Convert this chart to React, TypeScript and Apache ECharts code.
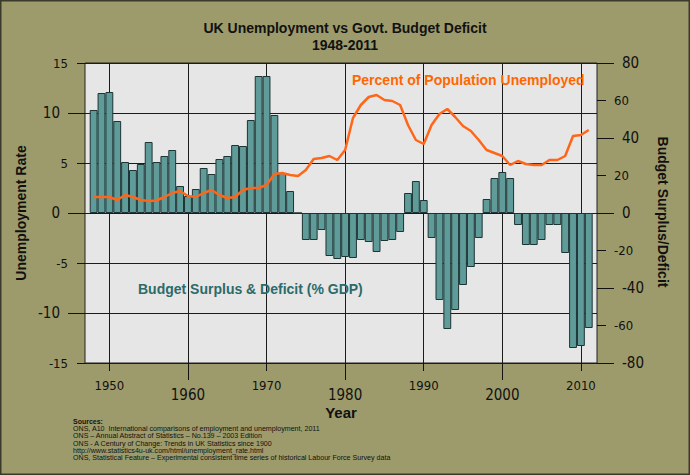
import React, { useEffect, useRef } from "react";
import * as echarts from "echarts";

const years = [
  1948, 1949, 1950, 1951, 1952, 1953, 1954, 1955, 1956, 1957,
  1958, 1959, 1960, 1961, 1962, 1963, 1964, 1965, 1966, 1967,
  1968, 1969, 1970, 1971, 1972, 1973, 1974, 1975, 1976, 1977,
  1978, 1979, 1980, 1981, 1982, 1983, 1984, 1985, 1986, 1987,
  1988, 1989, 1990, 1991, 1992, 1993, 1994, 1995, 1996, 1997,
  1998, 1999, 2000, 2001, 2002, 2003, 2004, 2005, 2006, 2007,
  2008, 2009, 2010, 2011,
];

// Budget surplus / deficit bars (read on the left scale)
const budgetBalance = [
  10.3, 12.0, 12.1, 9.2, 5.1, 4.3, 4.9, 7.1, 5.1, 5.7,
  6.3, 2.7, 1.7, 2.4, 4.5, 3.9, 5.4, 5.7, 6.8, 6.7,
  9.3, 13.7, 13.7, 9.8, 4.0, 2.2, 0.0, -2.7, -2.7, -1.7,
  -4.3, -4.6, -4.4, -4.5, -2.7, -2.9, -3.9, -2.8, -2.7, -1.9,
  2.0, 3.2, 1.3, -2.5, -8.7, -11.6, -9.7, -7.2, -5.4, -2.5,
  1.4, 3.5, 4.1, 3.5, -1.2, -3.2, -3.2, -2.7, -1.2, -1.2,
  -4.0, -13.5, -13.3, -11.5,
];

// Percent of population unemployed
const unemployment = [
  1.6, 1.6, 1.6, 1.3, 1.8, 1.6, 1.3, 1.2, 1.25, 1.6,
  2.0, 2.2, 1.7, 1.6, 2.0, 2.3, 1.8, 1.5, 1.6, 2.3,
  2.5, 2.5, 2.8, 3.9, 4.0, 3.8, 3.7, 4.3, 5.4, 5.5,
  5.7, 5.3, 6.3, 9.5, 10.8, 11.6, 11.8, 11.3, 11.2, 10.8,
  8.8, 7.3, 6.9, 8.8, 9.9, 10.4, 9.6, 8.7, 8.2, 7.3,
  6.3, 6.0, 5.7, 4.8, 5.2, 4.9, 4.8, 4.8, 5.3, 5.3,
  5.7, 7.7, 7.8, 8.3,
];

const decadeTicks = [1950, 1960, 1970, 1980, 1990, 2000, 2010];
const xMinorTicks = [1950, 1970, 1990, 2010];
const xMajorTicks = [1960, 1980, 2000];
const leftMinorTicks = [-15, -5, 5, 15];
const leftMajorTicks = [-10, 0, 10];
const rightMajorTicks = [-80, -40, 0, 40, 80];
const rightMinorTicks = [-60, -20, 20, 60];

const titleLines = ["UK Unemployment vs Govt. Budget Deficit", "1948-2011"];
const sourceLines = [
  "ONS, A10  International comparisons of employment and unemployment, 2011",
  "ONS \u2013 Annual Abstract of Statistics \u2013 No.139 \u2013 2003 Edition",
  "ONS - A Century of Change: Trends in UK Statistics since 1900",
  "http://www.statistics4u-uk.com/html/unemployment_rate.html",
  "ONS, Statistical Feature \u2013 Experimental consistent time series of historical Labour Force Survey data",
];

const FONT = '"Liberation Sans", Arial, Helvetica, sans-serif';
const NARROW = '"Liberation Sans Narrow", "Arial Narrow", "DejaVu Sans Condensed", sans-serif';
const INK = "#111111";
const GRIDLINE = "#1c1c1c";

const plain = (v: number) => String(v);

export default function App() {
  const ref = useRef<HTMLDivElement>(null);

  useEffect(() => {
    if (!ref.current) return;
    const chart = echarts.init(ref.current, null, { renderer: "svg" });

    const xBase: any = {
      type: "value",
      min: 1946.9,
      max: 2012.05,
      position: "bottom",
      axisLine: { show: false, onZero: false },
      splitLine: { show: false },
      axisTick: { show: false },
      axisLabel: { show: false },
    };
    const yLeftBase: any = {
      type: "value",
      min: -15,
      max: 15,
      interval: 5,
      position: "left",
      axisLine: { show: false, onZero: false },
      splitLine: { show: false },
      axisTick: { show: false },
      axisLabel: { show: false },
    };
    const yRightBase: any = {
      type: "value",
      min: -80,
      max: 80,
      interval: 40,
      position: "right",
      axisLine: { show: false, onZero: false },
      splitLine: { show: false },
      axisTick: { show: false },
      axisLabel: { show: false },
    };
    const tickStyle = { color: INK, width: 1 };
    const minorLabel = { show: true, fontSize: 13, fontFamily: NARROW, color: INK, formatter: plain };
    const majorLabel = { show: true, fontSize: 15, fontFamily: NARROW, color: INK, formatter: plain };

    const sourceTexts = sourceLines.map((line, i) => ({
      type: "text",
      x: 73,
      y: 429.3 + i * 7.1,
      style: {
        text: line,
        fill: INK,
        font: `7.1px ${FONT}`,
        align: "left",
        verticalAlign: "middle",
        textAlign: "left",
        textVerticalAlign: "middle",
      },
    }));

    const option: any = {
      animation: false,
      backgroundColor: "#9d9b6b",
      grid: {
        left: 85,
        top: 63,
        width: 512,
        height: 300,
        show: true,
        backgroundColor: "#e6e6e6",
        borderColor: "#222222",
        borderWidth: 1,
      },
      xAxis: [
        {
          ...xBase,
          axisTick: { show: false, customValues: decadeTicks },
          splitLine: { show: true, lineStyle: { color: GRIDLINE, width: 1 } },
        },
        {
          ...xBase,
          axisTick: { show: true, customValues: xMinorTicks, length: 8, lineStyle: tickStyle },
          axisLabel: { ...minorLabel, customValues: xMinorTicks, margin: 16 },
        },
        {
          ...xBase,
          axisTick: { show: true, customValues: xMajorTicks, length: 17, lineStyle: tickStyle },
          axisLabel: { ...majorLabel, customValues: xMajorTicks, margin: 24 },
        },
      ],
      yAxis: [
        {
          ...yLeftBase,
          splitLine: { show: true, lineStyle: { color: GRIDLINE, width: 1 } },
        },
        {
          ...yLeftBase,
          axisTick: { show: true, customValues: leftMinorTicks, length: 8, lineStyle: tickStyle },
          axisLabel: { ...minorLabel, customValues: leftMinorTicks, margin: 17 },
        },
        {
          ...yLeftBase,
          axisTick: { show: true, customValues: leftMajorTicks, length: 17, lineStyle: tickStyle },
          axisLabel: { ...majorLabel, customValues: leftMajorTicks, margin: 25 },
        },
        {
          ...yRightBase,
          axisTick: { show: true, customValues: rightMajorTicks, length: 17, lineStyle: tickStyle },
          axisLabel: { ...majorLabel, customValues: rightMajorTicks, margin: 25 },
        },
        {
          ...yRightBase,
          axisTick: { show: true, customValues: rightMinorTicks, length: 9, lineStyle: tickStyle },
          axisLabel: { ...minorLabel, customValues: rightMinorTicks, margin: 17 },
        },
      ],
      series: [
        {
          name: "Budget Surplus & Deficit (% GDP)",
          type: "bar",
          xAxisIndex: 0,
          yAxisIndex: 0,
          barWidth: "100%",
          data: years.map((y, i) => [y, budgetBalance[i]]),
          itemStyle: { color: "#5f9b98", borderColor: "#1d3434", borderWidth: 1 },
          z: 2,
        },
        {
          name: "Percent of Population Unemployed",
          type: "line",
          xAxisIndex: 0,
          yAxisIndex: 0,
          data: years.map((y, i) => [y, unemployment[i]]),
          symbol: "none",
          showSymbol: false,
          lineStyle: { color: "#ff6619", width: 2.5 },
          itemStyle: { color: "#ff6619" },
          z: 3,
        },
      ],
      graphic: [
        {
          type: "rect",
          silent: true,
          shape: { x: 0.75, y: 0.75, width: 688.5, height: 473.5 },
          style: { fill: "none", stroke: "#3a3a2a", lineWidth: 1.5 },
          z: 100,
        },
        {
          type: "text",
          x: 345,
          y: 28,
          style: {
            text: titleLines[0],
            fill: INK,
            font: `bold 14px ${FONT}`,
            align: "center",
            verticalAlign: "middle",
            textAlign: "center",
            textVerticalAlign: "middle",
          },
        },
        {
          type: "text",
          x: 345,
          y: 44.5,
          style: {
            text: titleLines[1],
            fill: INK,
            font: `bold 14px ${FONT}`,
            align: "center",
            verticalAlign: "middle",
            textAlign: "center",
            textVerticalAlign: "middle",
          },
        },
        {
          type: "text",
          x: 21,
          y: 213,
          rotation: Math.PI / 2,
          style: {
            text: "Unemployment Rate",
            fill: INK,
            font: `bold 14px ${FONT}`,
            align: "center",
            verticalAlign: "middle",
            textAlign: "center",
            textVerticalAlign: "middle",
          },
        },
        {
          type: "text",
          x: 663,
          y: 212,
          rotation: -Math.PI / 2,
          style: {
            text: "Budget Surplus/Deficit",
            fill: INK,
            font: `bold 14px ${FONT}`,
            align: "center",
            verticalAlign: "middle",
            textAlign: "center",
            textVerticalAlign: "middle",
          },
        },
        {
          type: "text",
          x: 341,
          y: 412,
          style: {
            text: "Year",
            fill: INK,
            font: `bold 15px ${FONT}`,
            align: "center",
            verticalAlign: "middle",
            textAlign: "center",
            textVerticalAlign: "middle",
          },
        },
        {
          type: "text",
          x: 352,
          y: 80,
          z: 10,
          style: {
            text: "Percent of Population Unemployed",
            fill: "#ff6600",
            font: `bold 14px ${FONT}`,
            align: "left",
            verticalAlign: "middle",
            textAlign: "left",
            textVerticalAlign: "middle",
          },
        },
        {
          type: "text",
          x: 138,
          y: 289,
          z: 10,
          style: {
            text: "Budget Surplus & Deficit (% GDP)",
            fill: "#2b6b6b",
            font: `bold 14px ${FONT}`,
            align: "left",
            verticalAlign: "middle",
            textAlign: "left",
            textVerticalAlign: "middle",
          },
        },
        {
          type: "text",
          x: 73,
          y: 421.7,
          style: {
            text: "Sources:",
            fill: INK,
            font: `bold 7px ${FONT}`,
            align: "left",
            verticalAlign: "middle",
            textAlign: "left",
            textVerticalAlign: "middle",
          },
        },
        ...sourceTexts,
      ],
    };

    chart.setOption(option);
    return () => chart.dispose();
  }, []);

  return (
    <div
      ref={ref}
      style={{ position: "absolute", left: 0, top: 0, width: 690, height: 475 }}
    />
  );
}
